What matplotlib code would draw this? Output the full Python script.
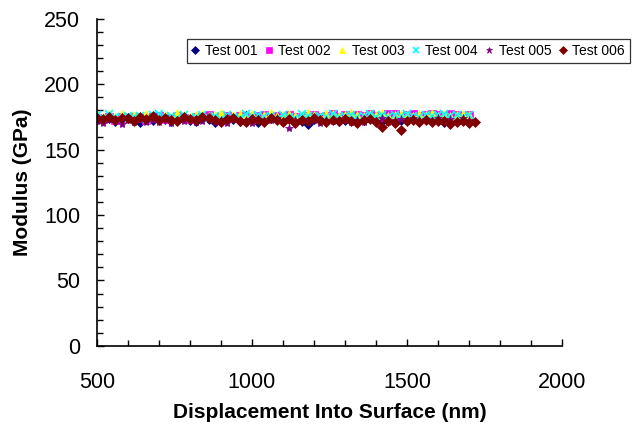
import matplotlib
matplotlib.use('Agg')
import matplotlib.pyplot as plt
from matplotlib.ticker import MultipleLocator

plt.rcParams['font.family'] = ['Liberation Sans', 'DejaVu Sans']

# displacement into surface (nm)
depth = [500, 520, 540, 560, 580, 600, 620, 640, 660, 680,
         700, 720, 740, 760, 780, 800, 820, 840, 860, 880,
         900, 920, 940, 960, 980, 1000, 1020, 1040, 1060, 1080,
         1100, 1120, 1140, 1160, 1180, 1200, 1220, 1240, 1260, 1280,
         1300, 1320, 1340, 1360, 1380, 1400, 1420, 1440, 1460, 1480,
         1500, 1520, 1540, 1560, 1580, 1600, 1620, 1640, 1660, 1680,
         1700, 1720]

# modulus (GPa)
test001 = [173.5, 172.8, 174.1, 171.9, 173.2, 174.0, 172.5, 171.2, 173.8, 172.9,
           174.3, 173.1, 171.8, 172.6, 174.5, 173.0, 172.2, 175.1, 173.6, 171.5,
           172.9, 174.2, 173.3, 172.0, 175.8, 173.4, 171.1, 172.7, 174.0, 173.2,
           172.4, 174.6, 173.8, 171.9, 169.8, 173.1, 174.4, 172.6, 173.5, 171.7,
           172.8, 174.1, 173.6, 172.3, 174.9, 173.0, 171.6, 173.7, 174.2, 172.5,
           173.3, 175.0, 172.1, 173.9, 174.4, 172.7, 171.4, 173.2, 174.0, 172.9,
           171.8]
test002 = [174.2, 173.5, 175.0, 172.8, 174.6, 173.9, 175.3, 174.1, 172.9, 174.8,
           175.5, 173.7, 174.3, 175.9, 174.0, 173.2, 175.1, 174.7, 176.2, 173.8,
           174.9, 175.6, 174.2, 176.0, 174.8, 173.6, 175.4, 176.3, 174.5, 175.8,
           174.1, 176.6, 175.2, 174.0, 175.9, 176.4, 174.7, 175.5, 177.0, 175.1,
           176.2, 174.9, 176.8, 175.6, 177.3, 176.0, 175.2, 176.9, 177.5, 175.8,
           176.4, 177.1, 175.9, 176.7, 177.6, 176.2, 175.4, 177.0, 176.5, 175.7,
           176.8]
test003 = [175.8, 174.6, 176.9, 175.2, 177.4, 174.8, 176.1, 175.5, 177.2, 176.0,
           174.9, 176.7, 175.3, 177.8, 176.2, 175.0, 176.8, 177.5, 175.6, 176.3,
           177.9, 175.1, 176.6, 177.2, 175.8, 176.9, 174.7, 176.4, 177.7, 175.9,
           176.5, 177.3, 175.4, 176.1, 177.8, 176.7, 175.2, 176.9, 177.4, 175.7,
           176.3, 178.0, 176.8, 175.5, 177.1, 176.6, 177.9, 175.9, 176.4, 177.6,
           176.2, 175.6, 177.3, 176.8, 178.1, 176.0, 177.2, 175.8, 176.7, 177.5,
           176.1]
test004 = [176.5, 174.3, 177.2, 175.1, 173.8, 176.0, 174.6, 175.7, 173.4, 176.3,
           177.0, 174.8, 175.6, 173.9, 176.1, 174.5, 175.3, 176.8, 174.0, 175.9,
           173.6, 176.4, 175.0, 174.2, 177.1, 175.4, 176.2, 174.7, 175.8, 173.7,
           176.6, 175.1, 174.4, 176.9, 175.5, 174.1, 176.0, 175.2, 177.3, 174.9,
           175.7, 176.4, 174.6, 175.9, 177.0, 175.3, 176.5, 174.8, 176.1, 175.6,
           177.2, 176.0, 174.9, 176.7, 175.4, 176.3, 177.4, 175.8, 176.2, 175.0,
           176.6]
test005 = [172.1, 170.4, 173.5, 171.8, 169.9, 172.7, 171.2, 173.1, 170.8, 172.4,
           171.5, 173.8, 170.2, 172.9, 171.6, 173.3, 170.9, 172.2, 174.0, 171.4,
           172.8, 170.7, 173.6, 171.9, 172.5, 170.3, 173.2, 171.7, 172.9, 174.1,
           171.0, 166.9, 172.6, 173.7, 171.3, 172.4, 170.6, 173.0, 171.8, 172.7,
           173.9, 171.5, 172.3, 170.8, 173.4, 172.0, 174.2, 171.2, 172.9, 173.5,
           171.7, 174.0, 172.6, 173.3, 171.9, 174.4, 172.8, 173.6, 172.2, 174.1,
           173.0]
test006 = [174.0, 173.2, 175.1, 172.6, 174.4, 173.8, 172.1, 174.9, 173.5, 175.6,
           172.9, 174.2, 173.0, 171.8, 174.6, 173.3, 172.4, 175.2, 173.9, 172.7,
           171.5, 173.4, 174.1, 172.2, 170.8, 173.6, 172.9, 171.4, 174.0, 172.5,
           171.1, 173.2, 170.5, 172.6, 171.9, 173.8, 172.3, 170.9, 172.8, 171.6,
           173.1, 172.0, 170.7, 172.4, 173.3, 171.2, 167.4, 172.1, 170.6, 164.9,
           171.8, 173.0, 171.3, 172.5, 170.9, 172.2, 171.6, 169.4, 170.8, 172.0,
           170.3, 171.1]

labels = ['Test 001', 'Test 002', 'Test 003', 'Test 004', 'Test 005', 'Test 006']
series = [test001, test002, test003, test004, test005, test006]
colors = ['#000080', '#FF00FF', '#FFFF00', '#00FFFF', '#800080', '#800000']
markers = ['D', 's', '^', 'x', '*', 'D']
sizes = [5, 5.5, 6, 5.5, 6, 5.5]

fig = plt.figure(figsize=(6.33, 4.28), dpi=100)
ax = fig.add_axes([0.153, 0.192, 0.735, 0.764])

for y, lab, c, m, s in zip(series, labels, colors, markers, sizes):
    ax.plot(depth[:len(y)], y, linestyle='none', marker=m, color=c,
            markersize=s, markeredgewidth=1.2 if m == 'x' else 0.5, label=lab)

ax.set_xlim(500, 2000)
ax.set_ylim(0, 250)
ax.xaxis.set_major_locator(MultipleLocator(500))
ax.xaxis.set_minor_locator(MultipleLocator(100))
ax.yaxis.set_major_locator(MultipleLocator(50))
ax.yaxis.set_minor_locator(MultipleLocator(10))
ax.tick_params(which='both', direction='in', width=1.0, labelsize=15.5)
ax.tick_params(which='major', length=5)
ax.tick_params(which='minor', length=4.5)
ax.tick_params(axis='x', pad=19)
ax.tick_params(axis='y', pad=12)
for side in ['top', 'right']:
    ax.spines[side].set_visible(False)
for side in ['left', 'bottom']:
    ax.spines[side].set_linewidth(1.2)

ax.set_xlabel('Displacement Into Surface (nm)', fontsize=15, fontweight='bold')
ax.set_ylabel('Modulus (GPa)', fontsize=15, fontweight='bold')
ax.xaxis.set_label_coords(0.5, -0.175)
ax.yaxis.set_label_coords(-0.14, 0.5)

leg = fig.legend(loc='upper right', bbox_to_anchor=(0.995, 0.909), ncol=6,
                 fontsize=10, frameon=True, fancybox=False, edgecolor='black',
                 handlelength=0.5, handletextpad=0.45, columnspacing=0.55,
                 borderpad=0.35, borderaxespad=0, markerscale=0.8)
leg.get_frame().set_linewidth(0.9)

fig.savefig('out.png', dpi=100)
